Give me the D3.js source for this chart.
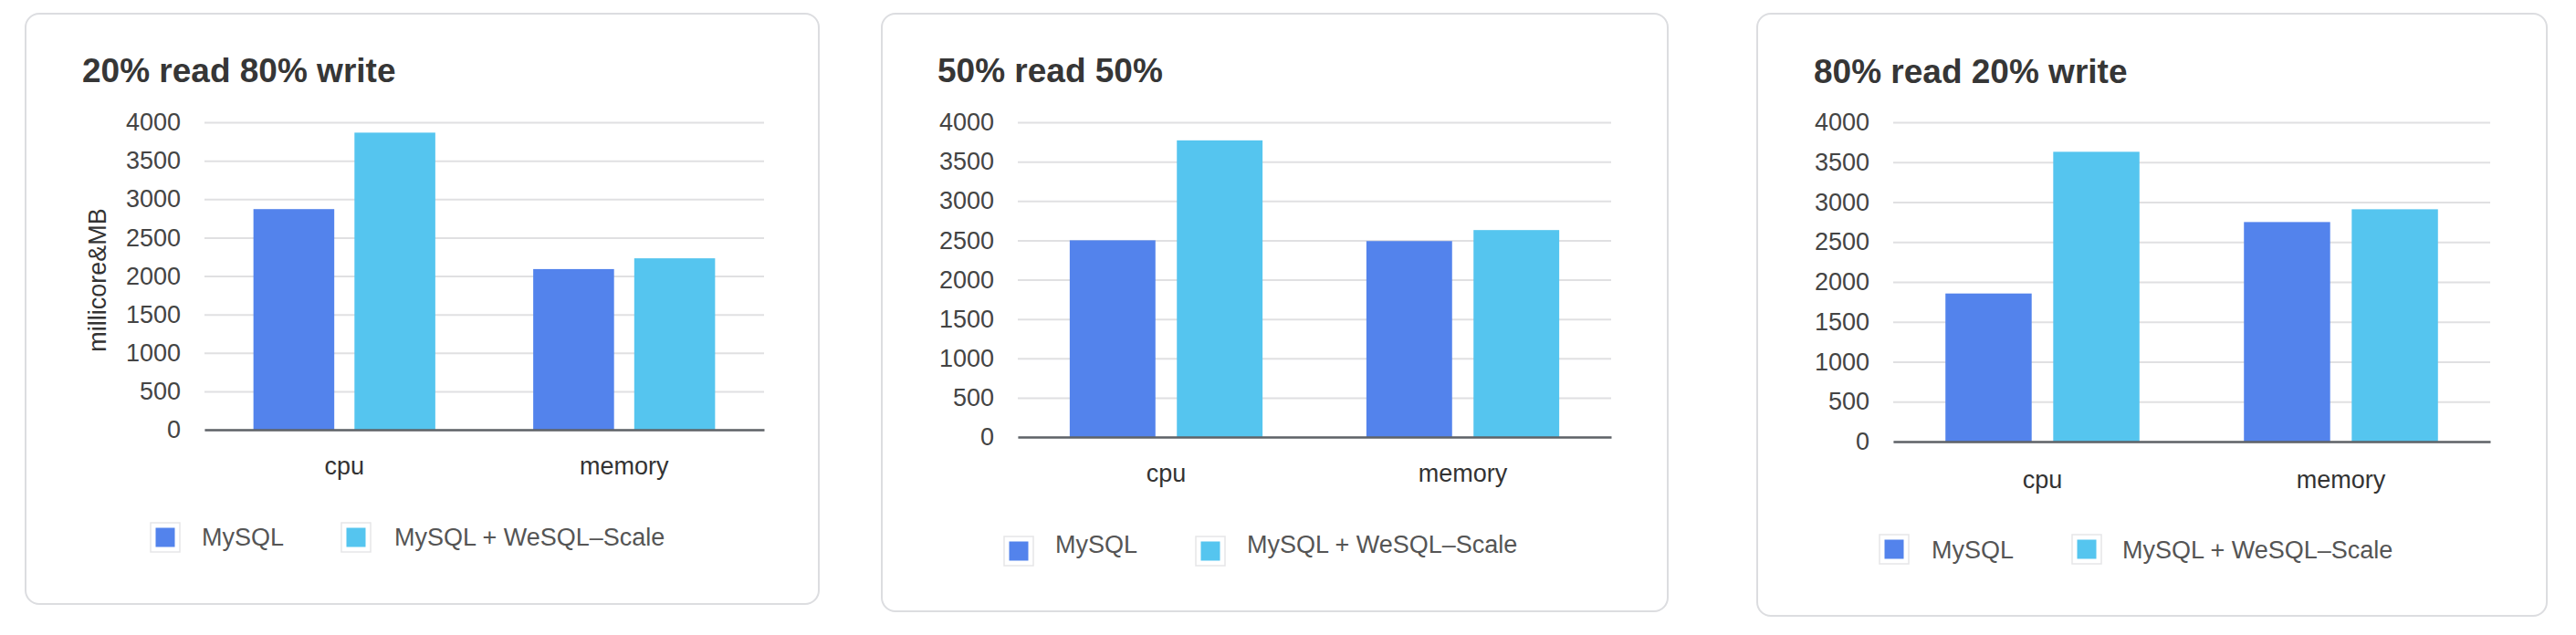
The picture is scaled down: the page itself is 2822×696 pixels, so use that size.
<!DOCTYPE html>
<html><head><meta charset="utf-8">
<script src="https://cdn.jsdelivr.net/npm/d3@7"></script>
<style>html,body{margin:0;padding:0;background:#fff;} svg{display:block;}</style>
</head><body>
<svg id="chart" width="2822" height="696"></svg>
<script>
// ---- data ----
const categories = ["cpu", "memory"];
const seriesNames = ["MySQL", "MySQL + WeSQL–Scale"];
const panelTitles = ["20% read 80% write", "50% read 50%", "80% read 20% write"];
const mysqlValues = [[2870, 2090], [2500, 2490], [1855, 2750]];
const wesqlValues = [[3865, 2230], [3770, 2630], [3630, 2910]];
const yTicks = [0, 500, 1000, 1500, 2000, 2500, 3000, 3500, 4000];
const yAxisTitle = "millicore&MB";

// ---- style / layout ----
const colors = ["#5383EC", "#55C5EF"];
const FONT = "'Liberation Sans', Arial, Helvetica, sans-serif";
const layouts = [
  {card:{x:28,y:15,w:869,h:647}, title:{x:90,y:90}, plot:{x0:224,x1:837,y0:134,y1:471}, tickX:198, xLabelY:520,
   legend:{boxY:573, box1X:165, text1X:221, box2X:374, text2X:432, textY:598}, yTitle:{x:107,y:307}},
  {card:{x:966,y:15,w:861,h:655}, title:{x:1027,y:90}, plot:{x0:1115,x1:1765,y0:134,y1:479}, tickX:1089, xLabelY:528,
   legend:{boxY:588, box1X:1100, text1X:1156, box2X:1310, text2X:1366, textY:606}},
  {card:{x:1925,y:15,w:865,h:660}, title:{x:1987,y:91}, plot:{x0:2074,x1:2728,y0:134,y1:484}, tickX:2048, xLabelY:535,
   legend:{boxY:586, box1X:2059, text1X:2116, box2X:2270, text2X:2325, textY:612}}
];

const svg = d3.select("#chart");

layouts.forEach((L, pi) => {
  const g = svg.append("g");
  // card
  g.append("rect")
    .attr("x", L.card.x).attr("y", L.card.y).attr("width", L.card.w).attr("height", L.card.h)
    .attr("rx", 15).attr("ry", 15)
    .attr("fill", "#fff").attr("stroke", "#dcdde0").attr("stroke-width", 2);

  // title
  g.append("text").attr("x", L.title.x).attr("y", L.title.y)
    .attr("font-family", FONT).attr("font-size", 37).attr("font-weight", "bold")
    .attr("fill", "#363636").text(panelTitles[pi]);

  const P = L.plot;
  const y = d3.scaleLinear().domain([0, 4000]).range([P.y1, P.y0]);
  const x0 = d3.scaleBand().domain(categories).range([P.x0, P.x1]).paddingInner(0.35).paddingOuter(0.175);
  const x1 = d3.scaleBand().domain(seriesNames).range([0, x0.bandwidth()]).paddingInner(0.2);

  // gridlines + y tick labels
  const yAxis = g.append("g").attr("transform", `translate(${P.x0},0)`)
    .call(d3.axisLeft(y).tickValues(yTicks).tickSize(-(P.x1 - P.x0)).tickPadding(P.x0 - L.tickX).tickFormat(d3.format("d")));
  yAxis.select(".domain").remove();
  yAxis.selectAll(".tick line").attr("stroke", "#e0e0e2").attr("stroke-width", 2);
  yAxis.selectAll(".tick text").attr("font-family", FONT).attr("font-size", 27).attr("fill", "#444");

  // bars
  const rows = categories.map((c, i) => ({cat: c, vals: [mysqlValues[pi][i], wesqlValues[pi][i]]}));
  const grp = g.selectAll(".grp").data(rows).join("g")
    .attr("transform", d => `translate(${x0(d.cat)},0)`);
  grp.selectAll("rect").data(d => d.vals.map((v, k) => ({s: seriesNames[k], v, k}))).join("rect")
    .attr("x", d => x1(d.s)).attr("width", x1.bandwidth())
    .attr("y", d => y(d.v)).attr("height", d => y(0) - y(d.v))
    .attr("fill", d => colors[d.k]);

  // x axis (zero line + labels)
  const xAxis = g.append("g").attr("transform", `translate(0,${P.y1})`)
    .call(d3.axisBottom(x0).tickSize(0).tickSizeOuter(0));
  xAxis.select(".domain").attr("stroke", "#5f6368").attr("stroke-width", 2.5);
  xAxis.selectAll(".tick text").attr("font-family", FONT).attr("font-size", 27).attr("fill", "#333")
    .attr("y", L.xLabelY - P.y1).attr("dy", 0);

  // y axis title (first panel only)
  if (L.yTitle) {
    g.append("text").attr("transform", `translate(${L.yTitle.x},${L.yTitle.y}) rotate(-90)`)
      .attr("text-anchor", "middle").attr("dominant-baseline", "central")
      .attr("font-family", FONT).attr("font-size", 27).attr("fill", "#333").text(yAxisTitle);
  }

  // legend
  const lg = L.legend;
  const items = [{x: lg.box1X, tx: lg.text1X}, {x: lg.box2X, tx: lg.text2X}];
  items.forEach((it, k) => {
    g.append("rect").attr("x", it.x).attr("y", lg.boxY).attr("width", 32).attr("height", 32)
      .attr("fill", "#fff").attr("stroke", "#e6e6e8").attr("stroke-width", 1.5);
    g.append("rect").attr("x", it.x + 5.5).attr("y", lg.boxY + 5.5).attr("width", 21).attr("height", 21)
      .attr("fill", colors[k]);
    g.append("text").attr("x", it.tx).attr("y", lg.textY)
      .attr("font-family", FONT).attr("font-size", 27).attr("fill", "#555").text(seriesNames[k]);
  });
});
</script>
</body></html>
